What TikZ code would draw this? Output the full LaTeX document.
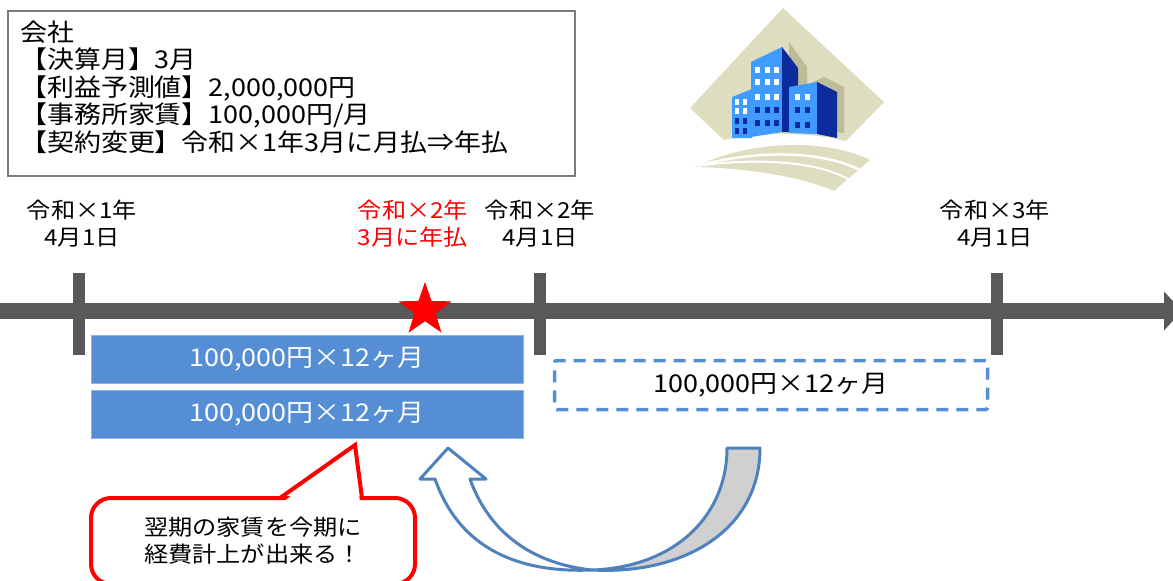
\documentclass[tikz,border=0pt]{standalone}
\usepackage{fontspec}
\setmainfont{Noto Sans CJK JP}[FakeStretch=1.1]
\usetikzlibrary{shapes.geometric, arrows.meta, positioning, calc}

\definecolor{axisgray}{HTML}{595959}
\definecolor{rentblue}{HTML}{558ED5}
\definecolor{rentedge}{HTML}{8DB4E2}
\definecolor{turnblue}{HTML}{4F81BD}
\definecolor{turngray}{HTML}{D0D0D0}
\definecolor{beige}{HTML}{DEDDC0}
\definecolor{shadowbeige}{HTML}{BDBB98}
\definecolor{towerfront}{HTML}{3F9BFF}
\definecolor{towerside}{HTML}{0C2C9E}

\begin{document}
\begin{tikzpicture}[x=1pt, y=-1pt,
    every node/.style={inner sep=0pt},
    jtext/.style={font=\fontsize{22}{27}\selectfont},
    bigtext/.style={font=\fontsize{24.5}{27.5}\selectfont},
    datelbl/.style={jtext, align=center},
    rentbox/.style={draw=rentedge, fill=rentblue, minimum width=432pt, minimum height=48pt, bigtext, text=white},
    nextbox/.style={draw=rentblue, dash pattern=on 12pt off 8pt, line width=3.5pt, rounded corners=2pt, minimum width=433pt, minimum height=49pt, bigtext},
    bubble/.style={draw=red, fill=white, line width=4pt, rounded corners=20pt, minimum width=324pt, minimum height=86pt, align=center, jtext},
    yeartick/.style={draw=axisgray, line width=12pt},
    turn/.style={draw=turnblue, line width=3pt, line join=round},
    win/.style={fill=white, minimum width=5pt, minimum height=6pt}
]
\useasboundingbox (0,0) rectangle (1173,581);

% company data
\draw[draw=axisgray!80, line width=1.2pt] (8,11) rectangle (575,176);
\node[bigtext, align=left, anchor=west] (company) at (20,87)
  {会社\\【決算月】3月\\【利益予測値】2,000,000円\\【事務所家賃】100,000円/月\\【契約変更】令和×1年3月に月払⇒年払};

% office icon
\fill[beige] (783,8) -- (884,102) -- (846,141) .. controls (810,132) and (760,132) .. (724,140) -- (690,108) -- cycle;
\fill[beige] (695,167) .. controls (750,140) and (825,138) .. (870,160) -- (834,191) .. controls (800,176) and (745,168) .. (695,167) -- cycle;
\draw[white, line width=2.5pt] (697,166) .. controls (755,150) and (820,150) .. (860,170);
\draw[white, line width=2pt] (697,166) .. controls (752,158) and (815,160) .. (850,180);
\begin{scope}[shift={(7,-5)}]
  \fill[shadowbeige] (782,47) -- (800,72) -- (800,90) -- (817,82) -- (837,92) -- (837,138) -- (782,132) -- cycle;
\end{scope}
\fill[towerfront] (732,97) -- (752,89) -- (752,138) -- (732,138) -- cycle;
\fill[towerfront] (751,62) -- (782,47) -- (782,132) -- (751,137) -- cycle;
\fill[towerside] (782,47) -- (798,68) -- (798,132) -- (782,132) -- cycle;
\fill[towerfront] (789,87) -- (817,82) -- (817,134) -- (789,133) -- cycle;
\fill[towerside] (817,82) -- (837,92) -- (837,138) -- (817,134) -- cycle;
\foreach \x in {757,767,776} {
  \foreach \y in {70,82,97} \node[win] at (\x,\y) {};
  \foreach \y in {110,123} \node[win, fill=towerside] at (\x,\y) {};
}
\foreach \x in {797,807} {
  \node[win] at (\x,97) {};
  \foreach \y in {110,125} \node[win, fill=towerside] at (\x,\y) {};
}
\foreach \x in {737,745} {
  \foreach \y in {102,111} \node[win, minimum width=4pt] at (\x,\y) {};
  \foreach \y in {121,131} \node[win, minimum width=4pt, fill=towerside] at (\x,\y) {};
}

% dates
\node[datelbl] (d1) at (82,224) {令和×1年\\4月1日};
\node[datelbl, text=red] (dpay) at (413,224) {令和×2年\\3月に年払};
\node[datelbl] (d2) at (540,224) {令和×2年\\4月1日};
\node[datelbl] (d3) at (995,224) {令和×3年\\4月1日};

% time axis
\coordinate (tl-start) at (0,311);
\coordinate (tl-end) at (1182,311);
\draw[axisgray, line width=16pt, -{Triangle[width=38pt, length=18pt]}] (tl-start) -- (tl-end);
\foreach \x in {79,540,997}
  \draw[yeartick] (\x,273) -- (\x,355);

% rent payments
\node[rentbox] (rent1) at (307,359) {100,000円×12ヶ月};
\node[rentbox] (rent2) at (307,414) {100,000円×12ヶ月};
\node[nextbox] (rent3) at (771,385) {100,000円×12ヶ月};
\node[star, star points=5, star point ratio=2.5, fill=red, minimum size=56pt] (paystar) at (425,310) {};

% turn arrow
\coordinate (turn-low) at (592,570);
\filldraw[turn, fill=turngray] (turn-low) .. controls (676,567) and (727,515) .. (727,448) -- (760,448) .. controls (760,530) and (684,575) .. (turn-low) -- cycle;
\filldraw[turn, fill=white] (turn-low) .. controls (535,564) and (490,535) .. (470,479) -- (486,479) -- (448,448) -- (420,479) -- (435,479) .. controls (460,550) and (520,573) .. (turn-low) -- cycle;

% note
\node[bubble] (note) at (253,541) {翌期の家賃を今期に\\経費計上が出来る！};
\coordinate (note-tip) at (355,445);
\fill[white] (282,503) -- (note-tip) -- (360,503) -- cycle;
\draw[red, line width=4pt, line join=miter] (280,498) -- (note-tip) -- (362,498);
\end{tikzpicture}
\end{document}
